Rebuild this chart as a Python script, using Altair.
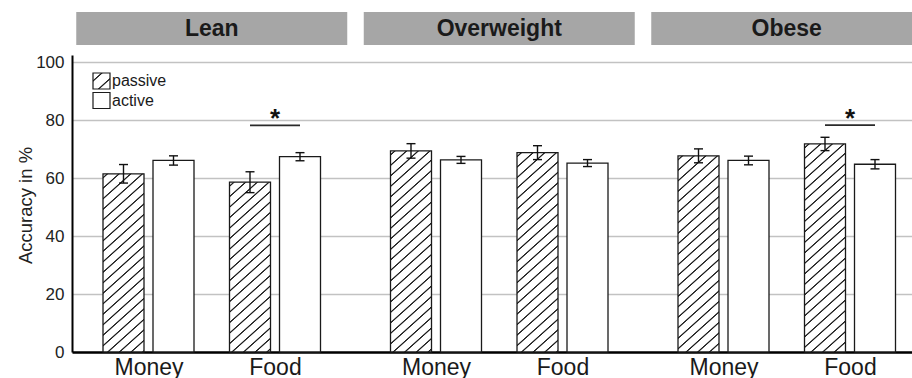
import altair as alt
import pandas as pd

# ---- data -------------------------------------------------------------
weight_groups = ["Lean", "Overweight", "Obese"]
rewards = ["Money", "Food"]
modes = ["passive", "active"]

# accuracy (%) per (group, reward) in order Lean-Money, Lean-Food,
# Overweight-Money, Overweight-Food, Obese-Money, Obese-Food
passive_mean = [61.5, 58.6, 69.4, 68.8, 67.7, 71.8]
passive_err = [3.2, 3.6, 2.5, 2.4, 2.4, 2.3]
active_mean = [66.1, 67.4, 66.3, 65.2, 66.1, 64.8]
active_err = [1.6, 1.4, 1.2, 1.2, 1.5, 1.6]

# significant passive vs. active contrasts
sig_group = ["Lean", "Obese"]
sig_reward = ["Food", "Food"]
sig_height = [78.2, 78.3]

y_ticks = [0, 20, 40, 60, 80, 100]

# ---- layout -----------------------------------------------------------
PLOT_W, PLOT_H, Y_MAX = 840, 297, 102.5
FIRST_CENTER, PAIR_STEP, PANEL_STEP = 76.5, 126.5, 287.5
BAR_SHIFT, BAR_W, HEADER_HALF = 25, 41, 135.5
PX_PER_UNIT = PLOT_H / Y_MAX
FONT = "Liberation Sans, Arial, Helvetica, sans-serif"
INK = "#1a1a1a"


def pair_center(g, r):
    return FIRST_CENTER + weight_groups.index(g) * PANEL_STEP + rewards.index(r) * PAIR_STEP


rows = []
k = 0
for g in weight_groups:
    for r in rewards:
        c = pair_center(g, r)
        for m, means, errs in (("passive", passive_mean, passive_err),
                               ("active", active_mean, active_err)):
            xc = c + (-BAR_SHIFT if m == "passive" else BAR_SHIFT)
            mu, e = means[k], errs[k]
            rows.append(dict(group=g, reward=r, mode=m, idx=k, mean=mu,
                             lo=mu - e, hi=mu + e, xc=xc,
                             x0=xc - BAR_W / 2, x1=xc + BAR_W / 2))
        k += 1
bars = pd.DataFrame(rows)

heads = pd.DataFrame({"group": weight_groups})
heads["xc"] = [(pair_center(g, "Money") + pair_center(g, "Food")) / 2 for g in weight_groups]
heads["x0"] = heads["xc"] - HEADER_HALF
heads["x1"] = heads["xc"] + HEADER_HALF

sig = pd.DataFrame({"group": sig_group, "reward": sig_reward, "y": sig_height})
sig["xa"] = [pair_center(g, r) - BAR_SHIFT for g, r in zip(sig_group, sig_reward)]
sig["xb"] = [pair_center(g, r) + BAR_SHIFT for g, r in zip(sig_group, sig_reward)]
sig["xc"] = (sig["xa"] + sig["xb"]) / 2
sig["star"] = "*"

legend = pd.DataFrame({"mode": modes})


def hatch(w, h, period=10.5, slope=0.9, ink="#202020", paper="#ffffff", phase=4.0):
    """Diagonal '/' hatching as a hard-stop linear gradient in bbox units."""
    d = slope * w + h
    den = (slope * w) ** 2 + h ** 2
    stops = [{"offset": 0, "color": paper}]
    c = phase
    while c - 1.3 < d:
        for off, col in ((c - 1.3, paper), (c - 0.4, ink), (c + 0.4, ink), (c + 1.3, paper)):
            stops.append({"offset": min(max(off / d, 0.0), 1.0), "color": col})
        c += period
    stops.append({"offset": 1, "color": paper})
    return {"gradient": "linear", "x1": 0, "y1": 0,
            "x2": slope * w * d / den, "y2": h * d / den, "stops": stops}


# ---- scales and axes (shared by every layer) ---------------------------
x_scale = alt.Scale(domain=[0, PLOT_W], nice=False, zero=False)
y_scale = alt.Scale(domain=[0, Y_MAX], nice=False, zero=False)

money_pos = [pair_center(g, "Money") for g in weight_groups]
x_values = sorted(money_pos + [pair_center(g, "Food") for g in weight_groups])
x_axis = alt.Axis(values=x_values,
                  labelExpr="indexof(" + str(money_pos) + ", datum.value) >= 0 ? 'Money' : 'Food'",
                  title=None, ticks=False, grid=False, domainColor="#000", domainWidth=2.5,
                  labelFontSize=23, labelColor=INK, labelPadding=4, labelFont=FONT)
y_axis = alt.Axis(values=y_ticks, title="Accuracy in %", ticks=False, labelPadding=8,
                  labelFontSize=17, labelColor="#222", labelFont=FONT,
                  domainColor="#000", domainWidth=2, gridColor="#c2c2c2", gridWidth=1.3,
                  titleFontSize=18.5, titleFontWeight="normal", titleColor="#222", titleFont=FONT,
                  titleX=-47, titleY=150, titleAlign="center", titleBaseline="middle")


def X(field):
    return alt.X(field, type="quantitative", scale=x_scale, axis=x_axis)


def Y(field):
    return alt.Y(field, type="quantitative", scale=y_scale, axis=y_axis)


base = alt.Chart(bars)

active_layer = base.transform_filter(alt.datum.mode == "active").mark_bar(
    fill="#ffffff", stroke=INK, strokeWidth=1.3
).encode(x=X("x0"), x2="x1:Q", y=Y("mean"), y2=alt.datum(0))

passive_layers = []
for i, mu in enumerate(passive_mean):
    passive_layers.append(
        base.transform_filter((alt.datum.mode == "passive") & (alt.datum.idx == i)).mark_bar(
            fill=hatch(BAR_W, mu * PX_PER_UNIT), stroke=INK, strokeWidth=1.3
        ).encode(x=X("x0"), x2="x1:Q", y=Y("mean"), y2=alt.datum(0))
    )

err_rule = base.mark_rule(color="#111", strokeWidth=1.4).encode(
    x=X("xc"), y=Y("lo"), y2="hi:Q")
cap_lo = base.mark_tick(orient="horizontal", size=9, thickness=1.4, color="#111", opacity=1).encode(
    x=X("xc"), y=Y("lo"))
cap_hi = base.mark_tick(orient="horizontal", size=9, thickness=1.4, color="#111", opacity=1).encode(
    x=X("xc"), y=Y("hi"))

sig_line = alt.Chart(sig).mark_rule(color="#2a2a2a", strokeWidth=1.8).encode(
    x=X("xa"), x2="xb:Q", y=Y("y"))
sig_star = alt.Chart(sig).mark_text(
    font=FONT, fontSize=26, fontWeight="bold", color="#111", baseline="alphabetic", dy=2
).encode(x=X("xc"), y=Y("y"), text="star:N")

head_rect = alt.Chart(heads).mark_rect(fill="#a6a6a6").encode(
    x=X("x0"), x2="x1:Q", y=alt.value(-43), y2=alt.value(-10))
head_text = alt.Chart(heads).mark_text(
    font=FONT, fontSize=23, fontWeight="bold", color=INK, baseline="middle"
).encode(x=X("xc"), y=alt.value(-26), text="group:N")

leg = alt.Chart(legend)
leg_passive = leg.transform_filter(alt.datum.mode == "passive").mark_rect(
    fill=hatch(17, 16, period=13, phase=8), stroke=INK, strokeWidth=1.2
).encode(x=alt.value(21), x2=alt.value(38), y=alt.value(18), y2=alt.value(34))
leg_active = leg.transform_filter(alt.datum.mode == "active").mark_rect(
    fill="#ffffff", stroke=INK, strokeWidth=1.2
).encode(x=alt.value(21), x2=alt.value(38), y=alt.value(37.5), y2=alt.value(53.5))
leg_text_p = leg.transform_filter(alt.datum.mode == "passive").mark_text(
    font=FONT, fontSize=16, color=INK, align="left", baseline="middle"
).encode(x=alt.value(40), y=alt.value(26), text="mode:N")
leg_text_a = leg.transform_filter(alt.datum.mode == "active").mark_text(
    font=FONT, fontSize=16, color=INK, align="left", baseline="middle"
).encode(x=alt.value(40), y=alt.value(45.5), text="mode:N")

chart = alt.layer(
    active_layer, *passive_layers, err_rule, cap_lo, cap_hi,
    sig_line, sig_star, head_rect, head_text,
    leg_passive, leg_active, leg_text_p, leg_text_a,
).properties(
    width=PLOT_W, height=PLOT_H,
    padding={"left": 72, "top": 55, "right": 0, "bottom": 26},
    autosize=alt.AutoSizeParams(type="none"),
    background="#ffffff",
).configure_view(stroke=None).configure_axisY(
    titleFontSize=18.5, titleFont=FONT, titleFontWeight="normal", titleColor="#222"
)

chart.save("out.html", embed_options={"renderer": "svg", "actions": False})
